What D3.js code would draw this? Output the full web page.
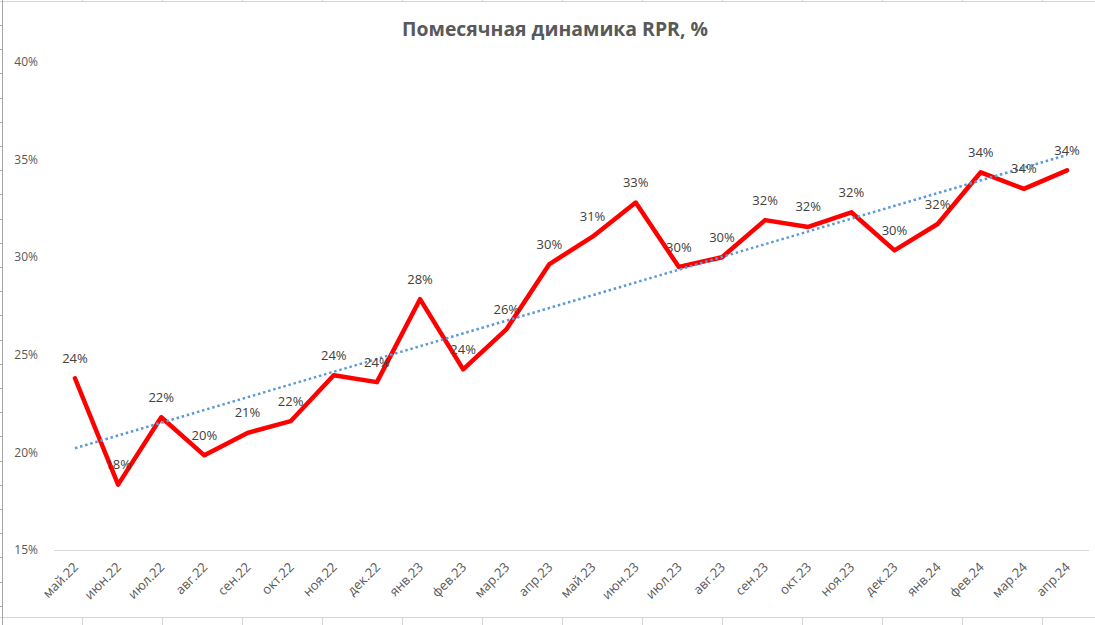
<!DOCTYPE html>
<html><head><meta charset="utf-8">
<script src="https://cdn.jsdelivr.net/npm/d3@7"></script>
<style>
html,body{margin:0;padding:0;background:#fff;}
svg{display:block;}
text{font-family:"Open Sans",sans-serif;}
</style></head>
<body>
<svg id="chart" width="1095" height="625"></svg>
<script>
const title = "Помесячная динамика RPR, %";
const categories = ["май.22","июн.22","июл.22","авг.22","сен.22","окт.22","ноя.22","дек.22",
  "янв.23","фев.23","мар.23","апр.23","май.23","июн.23","июл.23","авг.23","сен.23","окт.23",
  "ноя.23","дек.23","янв.24","фев.24","мар.24","апр.24"];
const rpr = [23.8,18.35,21.8,19.85,21.0,21.6,23.95,23.6,27.85,24.25,26.3,29.65,31.05,32.8,
  29.5,30.0,31.9,31.55,32.3,30.35,31.7,34.35,33.5,34.45];
const yTicks = [15,20,25,30,35,40];

const svg = d3.select("#chart");
const W = 1095, H = 625;

// spreadsheet cell borders around the chart object
const deco = svg.append("g").attr("stroke","#c8c8c8").attr("stroke-width",1).attr("shape-rendering","crispEdges");
deco.append("line").attr("x1",0).attr("x2",W).attr("y1",1.5).attr("y2",1.5).attr("stroke","#d4d4d4");
deco.append("line").attr("x1",0).attr("x2",W).attr("y1",617.5).attr("y2",617.5).attr("stroke","#d4d4d4");
deco.append("line").attr("x1",2.5).attr("x2",2.5).attr("y1",0).attr("y2",H).attr("stroke","#a6a6a6");
d3.range(82,W,80).forEach(x=>{
  deco.append("line").attr("x1",x+0.5).attr("x2",x+0.5).attr("y1",0).attr("y2",2).attr("stroke","#d4d4d4");
  deco.append("line").attr("x1",x+0.5).attr("x2",x+0.5).attr("y1",617).attr("y2",H).attr("stroke","#d4d4d4");
});
d3.range(25,H,24.2).forEach(y=>{
  deco.append("line").attr("x1",0).attr("x2",2).attr("y1",Math.round(y)+0.5).attr("y2",Math.round(y)+0.5).attr("stroke","#a6a6a6");
});

const x = d3.scalePoint().domain(categories).range([53.4,1088.6]).padding(0.5);
const y = d3.scaleLinear().domain([15,40]).range([550,62]);

// title
svg.append("text").attr("x",555).attr("y",36).attr("text-anchor","middle")
  .attr("font-size",19.4).attr("font-weight","bold").attr("fill","#595959").text(title);

// y tick labels
svg.append("g").selectAll("text").data(yTicks).join("text")
  .attr("x",38).attr("y",d=>y(d)).attr("dy","0.35em").attr("text-anchor","end")
  .attr("font-size",12).attr("fill","#595959").text(d=>d+"%");

// x axis line
const xAxis = d3.axisBottom(x).tickSize(0).tickFormat("");
const gx = svg.append("g").attr("transform",`translate(0,${y(15)})`).call(xAxis);
gx.select(".domain").attr("stroke","#d9d9d9").attr("stroke-width",1).attr("shape-rendering","crispEdges");

// x labels
svg.append("g").selectAll("text").data(categories).join("text")
  .attr("transform",d=>`translate(${x(d)+4},568) rotate(-45)`)
  .attr("text-anchor","end").attr("font-size",13).attr("fill","#595959").text(d=>d);

// trendline (linear least squares, as in Excel)
const n = rpr.length;
const xi = d3.range(n);
const mx = d3.mean(xi), my = d3.mean(rpr);
const slope = d3.sum(xi,i=>(i-mx)*(rpr[i]-my))/d3.sum(xi,i=>(i-mx)*(i-mx));
const icpt = my - slope*mx;
const trend = [0,n-1].map(i=>({c:categories[i],v:icpt+slope*i}));

// main line
const line = d3.line().x(d=>x(d.c)).y(d=>y(d.v));
const pts = categories.map((c,i)=>({c,v:rpr[i]}));
svg.append("path").datum(pts).attr("d",line).attr("fill","none")
  .attr("stroke","#ff0000").attr("stroke-width",4.5).attr("stroke-linejoin","round").attr("stroke-linecap","round");

svg.append("path").datum(trend).attr("d",line).attr("fill","none")
  .attr("stroke","#5b9bd5").attr("stroke-width",2.5).attr("stroke-dasharray","2.5,2.8");

// data labels
svg.append("g").selectAll("text").data(pts).join("text")
  .attr("x",d=>x(d.c)).attr("y",d=>y(d.v)-20).attr("dy","0.35em").attr("text-anchor","middle")
  .attr("font-size",13).attr("fill","#404040").text(d=>Math.round(d.v)+"%");
</script>
</body></html>
